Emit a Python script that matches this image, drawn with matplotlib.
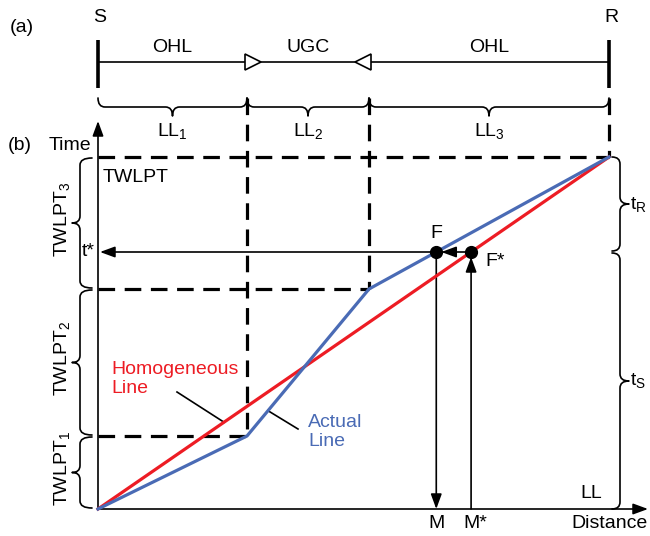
import numpy as np
import matplotlib
matplotlib.use("Agg")
import matplotlib.pyplot as plt
from matplotlib.path import Path
from matplotlib.patches import PathPatch, Polygon
from matplotlib.patches import ArrowStyle

plt.rcParams['font.family'] = ['Liberation Sans', 'DejaVu Sans']
plt.rcParams['mathtext.fontset'] = 'custom'
plt.rcParams['mathtext.rm'] = 'Liberation Sans'
plt.rcParams['mathtext.it'] = 'Liberation Sans:italic'

# Line sections (distance) and travelling-wave propagation times
section_names = ["OHL", "UGC", "OHL"]
section_labels = [r"LL$_\mathrm{1}$", r"LL$_\mathrm{2}$", r"LL$_\mathrm{3}$"]
section_bounds = [0, 149, 271, 511]      # cumulative distance S -> R
twlpt_bounds = [0, 73, 220, 352]         # cumulative travel time
twlpt_labels = [r"TWLPT$_\mathrm{1}$", r"TWLPT$_\mathrm{2}$", r"TWLPT$_\mathrm{3}$"]
t_star = 257                             # arrival time of the fault wave

RED = "#ED1C24"
BLUE = "#4A6BB5"
FS = 14

LL = section_bounds[-1]
T_total = twlpt_bounds[-1]
# fault location on the actual line and the homogeneous estimate
M = np.interp(t_star, twlpt_bounds, section_bounds)
M_star = t_star / T_total * LL

fig = plt.figure(figsize=(6.5, 5.36), dpi=100)
ax = fig.add_axes([0, 0, 1, 1])
ax.set_xlim(-98, 552)
ax.set_ylim(-27, 509)
ax.axis("off")


def brace(p0, p1, s, d, r=7, lw=1.2):
    p0, p1 = np.array(p0, float), np.array(p1, float)
    L = np.linalg.norm(p1 - p0)
    u = (p1 - p0) / L
    n = np.array([-u[1], u[0]])
    T = lambda a, b: p0 + a * u + b * n
    verts = [T(0, 0), T(0, s), T(r, s), T(L / 2 - r, s), T(L / 2, s), T(L / 2, d),
             T(L / 2, s), T(L / 2 + r, s), T(L - r, s), T(L, s), T(L, 0)]
    codes = [Path.MOVETO, Path.CURVE3, Path.CURVE3, Path.LINETO, Path.CURVE3, Path.CURVE3,
             Path.CURVE3, Path.CURVE3, Path.LINETO, Path.CURVE3, Path.CURVE3]
    ax.add_patch(PathPatch(Path(verts, codes), fill=False, lw=lw, color="k",
                           capstyle="round", joinstyle="round"))


def arrow(start, end, lw=1.2):
    ax.annotate("", xy=end, xytext=start,
                arrowprops=dict(arrowstyle=ArrowStyle("-|>", head_length=0.9, head_width=0.33),
                                mutation_scale=10, lw=lw, color="k",
                                shrinkA=0, shrinkB=0))


# ---------------- (a) single-line diagram ----------------
bus_y = 447
ax.plot([0, LL], [bus_y, bus_y], color="k", lw=1.2)
for x, name in [(0, "S"), (LL, "R")]:
    ax.plot([x, x], [421, 469], color="k", lw=2.6, solid_capstyle="butt")
    ax.text(x + 2, 491, name, ha="center", va="center", fontsize=FS)

for i, name in enumerate(section_names):
    ax.text((section_bounds[i] + section_bounds[i + 1]) / 2, 462, name,
            ha="center", va="center", fontsize=FS)
# open triangles marking the cable section joints
for xb, sgn in [(section_bounds[1], 1), (section_bounds[2], -1)]:
    tri = Polygon([[xb - 2 * sgn, bus_y + 8], [xb - 2 * sgn, bus_y - 8], [xb + 14 * sgn, bus_y]],
                  closed=True, facecolor="white", edgecolor="k", lw=1.2, zorder=3)
    ax.add_patch(tri)

brace_y = 411
for i, lab in enumerate(section_labels):
    brace((section_bounds[i], brace_y), (section_bounds[i + 1], brace_y), -9, -18)
    ax.text((section_bounds[i] + section_bounds[i + 1]) / 2, 378, lab,
            ha="center", va="center", fontsize=FS)

ax.text(-88, 482, "(a)", ha="left", va="center", fontsize=FS)
ax.text(-90, 363, "(b)", ha="left", va="center", fontsize=FS)

# ---------------- (b) lattice / time-distance diagram ----------------
arrow((0, 0), (0, 388))
arrow((0, 0), (550, 0))
ax.text(-7, 363, "Time", ha="right", va="center", fontsize=FS)
ax.text(550, -15, "Distance", ha="right", va="center", fontsize=FS)

dash_kw = dict(color="k", lw=2.3, dashes=(5.2, 3.0), dash_capstyle="butt")
for xb, tb in zip(section_bounds[1:], twlpt_bounds[1:]):
    ax.plot([xb, xb], [brace_y, tb], **dash_kw)
    ax.plot([0, xb], [tb, tb], **dash_kw)

ax.text(5, 332, "TWLPT", ha="left", va="center", fontsize=FS)
ax.text(504, 16, "LL", ha="right", va="center", fontsize=FS)

# time-period braces on the left
for i, lab in enumerate(twlpt_labels):
    t0, t1 = twlpt_bounds[i] + 1, twlpt_bounds[i + 1] - 1
    brace((-6, t0), (-6, t1), 12, 20)
    ax.text(-36, (t0 + t1) / 2 + 4, lab, ha="center", va="center",
            rotation=90, fontsize=FS)

# tR / tS braces on the right
brace((514, t_star + 1), (514, T_total), -8, -17)
brace((514, 0), (514, t_star - 1), -8, -17)
ax.text(532, (t_star + T_total) / 2, r"t$_\mathrm{R}$", ha="left", va="center", fontsize=FS)
ax.text(532, t_star / 2, r"t$_\mathrm{S}$", ha="left", va="center", fontsize=FS)

# wave trajectories
ax.plot([0, LL], [0, T_total], color=RED, lw=2.3, zorder=4)
ax.plot(section_bounds, twlpt_bounds, color=BLUE, lw=2.3, zorder=4)

# fault-location construction
arrow((M, t_star), (M, 0))
arrow((M_star, 0), (M_star, t_star - 5))
arrow((M_star, t_star), (M + 5, t_star))
arrow((M, t_star), (2, t_star))
ax.plot([M, M_star], [t_star, t_star], "o", color="k", ms=8.5, zorder=5)
ax.text(-3, t_star, "t*", ha="right", va="center", fontsize=FS)
ax.text(M, t_star + 19, "F", ha="center", va="center", fontsize=FS)
ax.text(M_star + 14, t_star - 10, "F*", ha="left", va="center", fontsize=FS)
ax.text(M, -15, "M", ha="center", va="center", fontsize=FS)
ax.text(M_star + 4, -15, "M*", ha="center", va="center", fontsize=FS)

# curve labels with leader lines
ax.text(13, 130, "Homogeneous\nLine", ha="left", va="center", color=RED,
        fontsize=FS, linespacing=1.15)
x_h = 126
ax.plot([79, x_h], [117, x_h * T_total / LL], color="k", lw=1.2)
ax.text(210, 77, "Actual\nLine", ha="left", va="center", color=BLUE,
        fontsize=FS, linespacing=1.15)
x_a = 170
ax.plot([x_a, 200], [np.interp(x_a, section_bounds, twlpt_bounds), 80], color="k", lw=1.2)

fig.savefig("out.png", dpi=100)
